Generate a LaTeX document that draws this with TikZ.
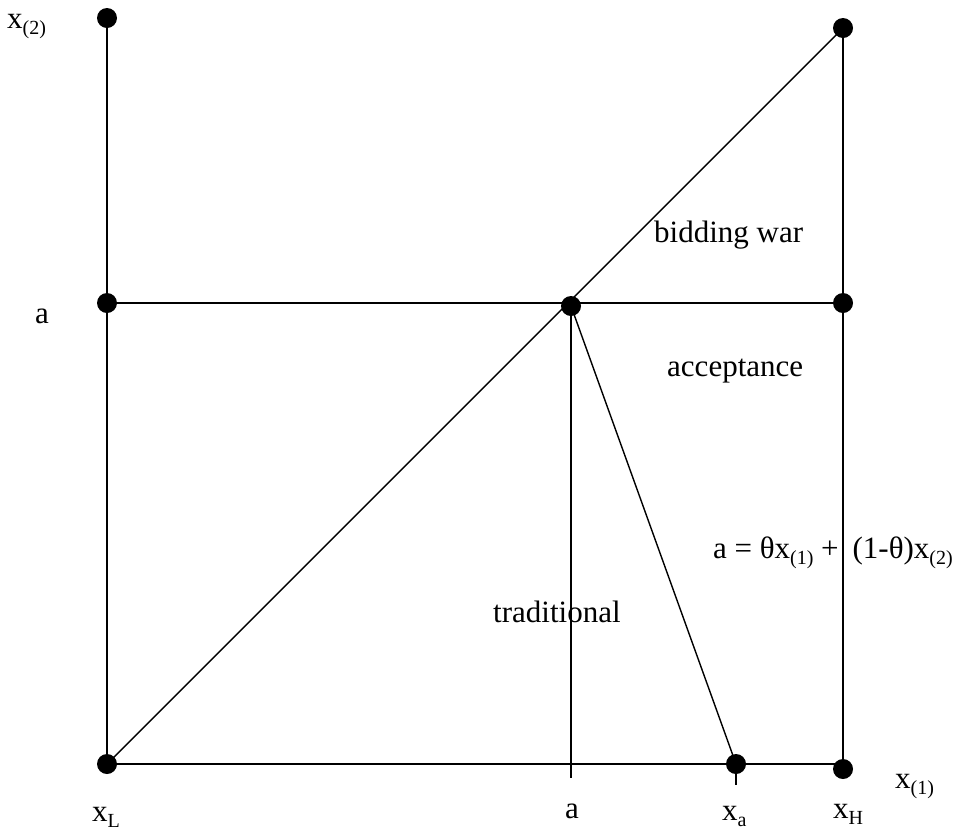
\documentclass[tikz,border=0pt]{standalone}
\usepackage{fontspec}
\setmainfont{Liberation Serif}
\newcommand{\lowtxt}[1]{\raisebox{-0.22em}{\fontsize{20}{20}\selectfont #1}}
\begin{document}
\begin{tikzpicture}[x=1pt,y=-1pt,
  dot/.style={circle,fill=black,draw=none,minimum size=20pt,inner sep=0pt},
  lbl/.style={anchor=base west,inner sep=0pt,font=\fontsize{31}{36}\selectfont},
  lblr/.style={anchor=base east,inner sep=0pt,font=\fontsize{31}{36}\selectfont},
  ln/.style={line width=1.4pt}]
\useasboundingbox (0,0) rectangle (957,831);
% dots
\node[dot] (TL) at (107,18) {};
\node[dot] (LA) at (107,303) {};
\node[dot] (BL) at (107,764) {};
\node[dot] (C) at (571,306) {};
\node[dot] (TR) at (843,28) {};
\node[dot] (RA) at (843,303) {};
\node[dot] (BR) at (843,769) {};
\node[dot] (XA) at (736,764) {};
\coordinate (Cl) at (571,303);
\coordinate (Ct) at (571,778);
\coordinate (XAt) at (736,785);
\coordinate (BRl) at (843,764);
% lines
\draw[ln] (TL.center) -- (LA.center) -- (BL.center);
\draw[ln] (LA.center) -- (Cl) -- (RA.center);
\draw[ln] (BL.center) -- (TR.center);
\draw[ln] (TR.center) -- (RA.center) -- (BR.center);
\draw[ln] (BL.center) -- (BRl);
\draw[ln] (Cl) -- (Ct);
\draw[ln] (C.center) -- (XA.center);
\draw[ln] (XA.center) -- (XAt);
% labels
\node[lbl] (lx2) at (7,28) {x\lowtxt{(2)}};
\node[lbl] (la) at (35,323) {a};
\node[lbl] (lbw) at (654,242) {bidding war};
\node[lbl] (lacc) at (667,376) {acceptance};
\node[lblr] (leq) at (953,558) {a = θx\lowtxt{(1)} +\hspace{0.45em}(1-θ)x\lowtxt{(2)}};
\node[lbl] (ltr) at (493,622) {traditional};
\node[lbl] (lx1) at (895,788) {x\lowtxt{(1)}};
\node[lbl] (lxl) at (92,821) {x\lowtxt{L}};
\node[lbl] (lab) at (565,818) {a};
\node[lbl] (lxa) at (722,820) {x\lowtxt{a}};
\node[lbl] (lxh) at (833,818) {x\lowtxt{H}};
\end{tikzpicture}
\end{document}
